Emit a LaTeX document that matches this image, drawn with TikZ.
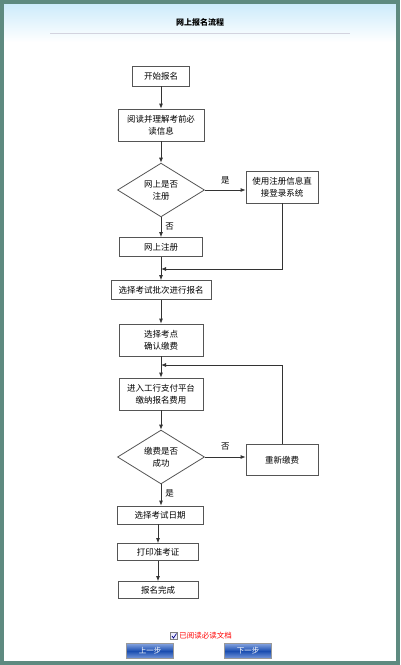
\documentclass[tikz,border=0pt]{standalone}
\usepackage{fontspec}
\newfontfamily\cjk{Noto Sans CJK SC}
\usetikzlibrary{shapes.geometric,arrows.meta}
\definecolor{frame}{HTML}{5E8A80}
\definecolor{boxline}{HTML}{555555}
\definecolor{skyblue}{HTML}{CDEBFB}
\definecolor{btnblue}{HTML}{1D56C4}
\tikzset{
  stepbox/.style={draw=boxline, line width=0.8pt, fill=white, align=center, inner sep=1pt, font=\cjk\fontsize{8.5}{12}\selectfont},
  choice/.style={draw=boxline, line width=0.8pt, fill=white, diamond, align=center, inner sep=0pt, minimum width=87pt, minimum height=50pt, font=\cjk\fontsize{8.5}{12}\selectfont},
  arr/.style={draw=black!80, line width=0.8pt, -{Latex[length=5pt,width=4pt]}},
  lbl/.style={font=\cjk\fontsize{8.5}{10}\selectfont, inner sep=0pt},
  btn/.style={draw=black!40, line width=0.5pt, top color=btnblue!55!white, bottom color=btnblue!60!white, middle color=btnblue!90!black, text=white, minimum width=47pt, minimum height=15pt, inner sep=0pt, font=\cjk\fontsize{7.5}{9}\selectfont}
}
\begin{document}
\begin{tikzpicture}[x=1pt,y=-1pt]
\useasboundingbox (0,0) rectangle (400,665);
% background and frame
\fill[white] (0,0) rectangle (400,665);
\shade[top color=skyblue, bottom color=white] (4,4) rectangle (396,42);
\draw[frame, line width=4pt] (2,2) rectangle (398,663);
\node[font=\cjk\bfseries\fontsize{8}{9}\selectfont, inner sep=0pt] (title) at (200,22) {网上报名流程};
\coordinate (tl) at (50,33);
\coordinate (tr) at (350,33);
\draw[blue!15!gray!30, line width=0.8pt] (tl) -- (tr);

% nodes
\node[stepbox, minimum width=57pt, minimum height=20pt] (start) at (161,76) {开始报名};
\node[stepbox, minimum width=86pt, minimum height=32pt] (read) at (161,125) {阅读并理解考前必\\读信息};
\node[choice] (reg) at (161,190) {网上是否\\注册};
\node[stepbox, minimum width=72pt, minimum height=32pt] (login) at (282,187) {使用注册信息直\\接登录系统};
\node[stepbox, minimum width=83pt, minimum height=19pt] (doreg) at (161,247) {网上注册};
\node[stepbox, minimum width=100pt, minimum height=19pt] (batch) at (161,290) {选择考试批次进行报名};
\node[stepbox, minimum width=84pt, minimum height=32pt] (site) at (161,340) {选择考点\\确认缴费};
\node[stepbox, minimum width=84pt, minimum height=32pt] (pay) at (161,394) {进入工行支付平台\\缴纳报名费用};
\node[choice] (ok) at (161,457) {缴费是否\\成功};
\node[stepbox, minimum width=72pt, minimum height=31pt] (repay) at (282,460) {重新缴费};
\node[stepbox, minimum width=86pt, minimum height=18pt] (date) at (160,515) {选择考试日期};
\node[stepbox, minimum width=81pt, minimum height=17pt] (print) at (158,552) {打印准考证};
\node[stepbox, minimum width=80pt, minimum height=17pt] (done) at (158,590) {报名完成};

\coordinate (m1) at (161,269);
\coordinate (m2) at (161,365);

% connectors
\draw[arr] (start.south) -- (start.south |- read.north);
\draw[arr] (read.south) -- (reg.north);
\draw[arr] (reg.east) -- (reg.east -| login.west) node[lbl, midway, above=5pt] {是};
\draw[arr] (reg.south) -- (doreg.north) node[lbl, pos=0.45, right=4pt] {否};
\draw[arr] (doreg.south) -- (batch.north);
\draw[arr] (login.south) |- (m1);
\draw[arr] (batch.south) -- (site.north);
\draw[arr] (site.south) -- (pay.north);
\draw[arr] (repay.north) |- (m2);
\draw[arr] (pay.south) -- (ok.north);
\draw[arr] (ok.east) -- (ok.east -| repay.west) node[lbl, midway, above=6pt] {否};
\draw[arr] (ok.south) -- (ok.south |- date.north) node[lbl, pos=0.45, right=4pt] {是};
\draw[arr] (print.north |- date.south) -- (print.north);
\draw[arr] (print.south) -- (done.north);

% footer
\node[draw=gray, fill=blue!8, minimum size=7pt, inner sep=0pt] (chk) at (174,636) {};
\draw[blue!50!black, line width=0.7pt] ([shift={(-2,0)}]chk.center) -- ([shift={(-0.5,2)}]chk.center) -- ([shift={(2.5,-2.5)}]chk.center);
\node[anchor=west, text=red, inner sep=0pt, font=\cjk\fontsize{7.5}{9}\selectfont] (readtxt) at ([xshift=1.5pt]chk.east) {已阅读必读文档};
\node[btn] (prev) at (150,651) {上一步};
\node[btn] (next) at (248,651) {下一步};
\end{tikzpicture}
\end{document}
